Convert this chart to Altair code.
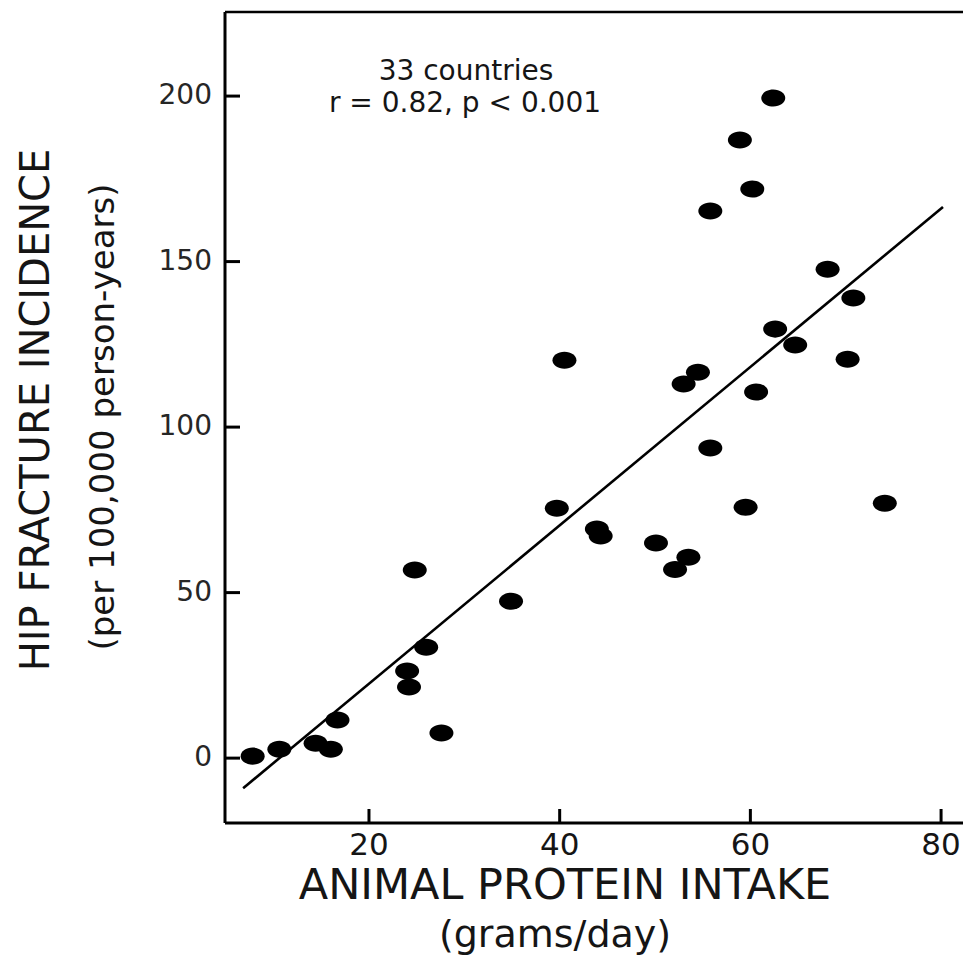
import altair as alt
import pandas as pd

# ---- data ----
protein = [7.8, 10.6, 14.4, 16.0, 16.7, 24.0, 24.2, 24.8, 26.0, 27.6, 34.9,
           39.7, 40.5, 43.9, 44.3, 50.1, 52.1, 53.5, 53.0, 54.5, 55.8, 55.8,
           58.9, 59.5, 60.2, 60.6, 62.4, 62.6, 64.7, 68.1, 70.8, 70.2, 74.1]
fracture = [0.6, 2.7, 4.5, 2.7, 11.5, 26.3, 21.5, 56.8, 33.5, 7.6, 47.4,
            75.5, 120.2, 69.2, 67.1, 65.0, 57.0, 60.7, 113.0, 116.6, 165.3, 93.7,
            186.7, 75.8, 171.9, 110.6, 199.4, 129.6, 124.8, 147.7, 139.0, 120.5, 77.0]
fit_x = [6.8, 80.2]
fit_y = [-9.1, 166.5]
x_ticks = [20, 40, 60, 80]
y_ticks = [0, 50, 100, 150, 200]

W, H = 738, 811
FONT = "DejaVu Sans"
INK = "#151515"

xs = alt.Scale(domain=[4.9, 82.3], nice=False, zero=False)
ys = alt.Scale(domain=[-19.6, 225.4], nice=False, zero=False)

pts = pd.DataFrame({"x": protein, "y": fracture})
fit = pd.DataFrame({"x": fit_x, "y": fit_y})
xt = pd.DataFrame({"v": x_ticks})
yt = pd.DataFrame({"v": y_ticks})
one = pd.DataFrame({"k": [0]})

ellipse = "M -1 0 A 1 0.71 0 1 0 1 0 A 1 0.71 0 1 0 -1 0 Z"

points = alt.Chart(pts).mark_point(
    shape=ellipse, filled=True, color="black", size=576, opacity=1, strokeWidth=0
).encode(
    x=alt.X("x:Q", scale=xs, axis=None),
    y=alt.Y("y:Q", scale=ys, axis=None),
)

line = alt.Chart(fit).mark_line(color="black", strokeWidth=2.6).encode(
    x=alt.X("x:Q", scale=xs, axis=None),
    y=alt.Y("y:Q", scale=ys, axis=None),
)

# frame: left axis, bottom axis, top line
left_axis = alt.Chart(one).mark_rule(color="black", strokeWidth=3).encode(
    x=alt.value(0), y=alt.value(0), y2=alt.value(H)
)
bottom_axis = alt.Chart(one).mark_rule(color="black", strokeWidth=3).encode(
    x=alt.value(0), x2=alt.value(W), y=alt.value(H)
)
top = alt.Chart(one).mark_rule(color="black", strokeWidth=2.5).encode(
    x=alt.value(0), x2=alt.value(W), y=alt.value(0)
)

# inward ticks and tick labels, placed through the scales
yticks = alt.Chart(yt).mark_rule(color="black", strokeWidth=3).encode(
    y=alt.Y("v:Q", scale=ys, axis=None), x=alt.value(0), x2=alt.value(15)
)
ylabels = alt.Chart(yt).mark_text(
    font=FONT, fontSize=28, color="#262626", align="right", baseline="middle"
).encode(
    y=alt.Y("v:Q", scale=ys, axis=None), x=alt.value(-13), text="v:Q"
)
xticks = alt.Chart(xt).mark_rule(color="black", strokeWidth=3).encode(
    x=alt.X("v:Q", scale=xs, axis=None), y=alt.value(H), y2=alt.value(H - 14)
)
xlabels = alt.Chart(xt).mark_text(
    font=FONT, fontSize=31, color=INK, align="center", baseline="middle"
).encode(
    x=alt.X("v:Q", scale=xs, axis=None), y=alt.value(H + 23), text="v:Q"
)

def txt(s, x, y, size, angle=0):
    params = dict(text=s, font=FONT, fontSize=size, color=INK, align="center", baseline="middle")
    if angle:
        params["angle"] = angle
    return alt.Chart(one).mark_text(**params).encode(x=alt.value(x), y=alt.value(y))

ann1 = txt("33 countries", 241, 60, 28)
ann2 = txt("r = 0.82, p < 0.001", 240, 92, 28)
ytitle1 = txt("HIP FRACTURE INCIDENCE", -188, 398, 40, 270)
ytitle2 = txt("(per 100,000 person-years)", -121, 405, 34, 270)
xtitle1 = txt("ANIMAL PROTEIN INTAKE", 340, 874, 43)
xtitle2 = txt("(grams/day)", 330, 924, 38)

chart = alt.layer(
    points, line, left_axis, bottom_axis, top, yticks, ylabels, xticks, xlabels,
    ann1, ann2, ytitle1, ytitle2, xtitle1, xtitle2
).properties(
    width=W, height=H,
    padding={"left": 225, "top": 12, "right": 0, "bottom": 136},
    autosize=alt.AutoSizeParams(type="none"),
).configure_view(stroke=None).configure(background="white")

chart.save("out.html", embed_options={"renderer": "svg", "actions": False})
